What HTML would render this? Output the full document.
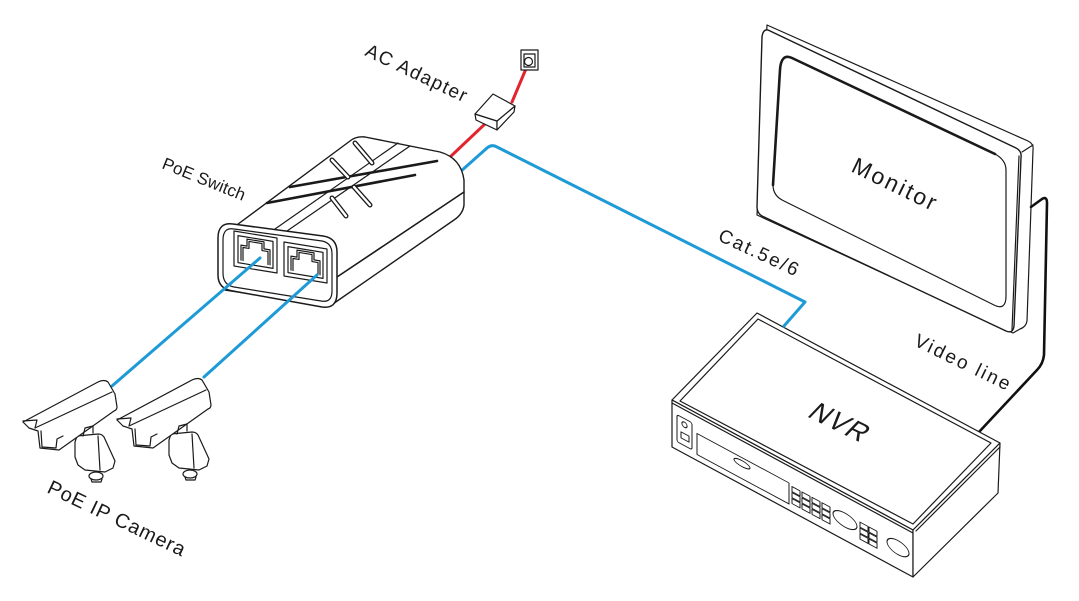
<!DOCTYPE html>
<html><head><meta charset="utf-8"><style>
html,body{margin:0;padding:0;background:#fff;}
svg{display:block;}
text{font-family:"Liberation Sans",sans-serif;fill:#1a1a1a;stroke:none;}
</style></head><body>
<svg width="1079" height="601" viewBox="0 0 1079 601" xmlns="http://www.w3.org/2000/svg">
<rect width="1079" height="601" fill="#fff"/>
<g fill="none" stroke="#1a1a1a" stroke-width="1.2" stroke-linejoin="round" stroke-linecap="round">

<!-- ===== Monitor ===== -->
<path d="M767,25 L1028,141 Q1034,144 1033,150 L1027,321 Q1026,327 1020,329 L1013,333 L757,215 Z" fill="#fff"/>
<path d="M768,30 L1016,148 Q1022,151 1021,158 L1014,326 Q1013,334 1006,331 L762,216 Q757,213 757,207 L762,37 Q763,29 768,30 Z" fill="#fff" stroke-width="1.4"/>
<path d="M1022,152 L1033,145"/>
<path d="M1019,156 L1012,330"/>
<path d="M792,58 L995,154 Q1006,160 1006,170 L1006,296 Q1006,311 994,305 L784,201 Q773,196 773,185 L780,70 Q781,53 792,58 Z" fill="#fff"/>
<path d="M773,185 L780,70 Q781,53 792,58 L995,154" stroke-width="2.6"/>
<text transform="translate(850,171) rotate(26)" font-size="23" textLength="91" lengthAdjust="spacing">Monitor</text>

<!-- video line -->
<path d="M1031,207 L1042,199 Q1047,196 1047,203 L1044,355 Q1043,364 1037,370 L979,432" stroke="#111" stroke-width="2.6"/>
<text transform="translate(913,345) rotate(26)" font-size="19" textLength="104" lengthAdjust="spacing">Video line</text>

<!-- ===== NVR ===== -->
<path d="M757,313 L1000,443 L913,530 L672,400 Z" fill="#fff"/>
<path d="M758,319 L991,443 L913,524 L680,401 Z"/>
<path d="M672,400 L913,530 L913,577 L672,447 Z" fill="#fff"/>
<path d="M672,403 L913,533"/>
<path d="M913,530 L1000,443 L998,493 L913,577 Z" fill="#fff"/>
<path d="M916,531 L1000,447"/>
<g transform="matrix(1,0.538,0,1,672,400)" stroke-width="1">
 <rect x="5" y="12" width="15" height="27" rx="2"/>
 <circle cx="12.5" cy="18" r="2.6"/>
 <rect x="9" y="27" width="8" height="6"/>
 <rect x="25" y="20" width="92" height="21"/>
 <ellipse cx="70" cy="26" rx="8" ry="3"/>
 <rect x="120" y="22" width="8" height="5"/><rect x="130" y="22" width="8" height="5"/><rect x="140" y="22" width="8" height="5"/><rect x="150" y="22" width="8" height="5"/>
 <rect x="120" y="28" width="8" height="5"/><rect x="130" y="28" width="8" height="5"/><rect x="140" y="28" width="8" height="5"/><rect x="150" y="28" width="8" height="5"/>
 <rect x="120" y="34" width="8" height="5"/><rect x="130" y="34" width="8" height="5"/><rect x="140" y="34" width="8" height="5"/><rect x="150" y="34" width="8" height="5"/>
 <ellipse cx="173" cy="27" rx="12" ry="7"/>
 <rect x="188" y="21" width="8" height="5"/><rect x="197" y="21" width="8" height="5"/>
 <rect x="188" y="27" width="8" height="5"/><rect x="197" y="27" width="8" height="5"/>
 <rect x="188" y="33" width="8" height="5"/><rect x="197" y="33" width="8" height="5"/>
 <ellipse cx="226" cy="26" rx="11" ry="7"/>
</g>
<text transform="translate(806,416) rotate(26) skewX(-18)" font-size="27" textLength="60" lengthAdjust="spacing">NVR</text>

<!-- Cat5 cable -->
<path d="M460,172 L487,148 Q492,144 497,147 L805,302 L784,326" stroke="#1e9ad6" stroke-width="3"/>
<text transform="translate(717,240) rotate(25)" font-size="19" textLength="86" lengthAdjust="spacing">Cat.5e/6</text>

<!-- ===== AC adapter & socket ===== -->
<path d="M449,158 L486,123" stroke="#e3242f" stroke-width="3"/>
<path d="M512,102 L528,64" stroke="#e3242f" stroke-width="3"/>
<path d="M475,114 L497,121 L497,130 L476,120 Z" fill="#fff"/>
<path d="M497,121 L515,106 L514,112 L497,130 Z" fill="#fff"/>
<path d="M475,114 L493,94 L515,106 L497,121 Z" fill="#fff"/>
<rect x="521" y="50" width="17" height="20" fill="#fff"/>
<rect x="524" y="54" width="11" height="13"/>
<circle cx="528.5" cy="61.5" r="4"/>
<text transform="translate(364,55) rotate(25.5)" font-size="19" textLength="110" lengthAdjust="spacing">AC Adapter</text>

<!-- ===== PoE Switch ===== -->
<path d="M222,236 L350,141 Q356,136 365,137 L440,152 Q461,158 464,180 L464,205 Q463,214 454,220 L330,306 L225,290 Z" fill="#fff" stroke-width="1.4"/>
<path d="M337,277 L464,192" stroke-width="1.6"/>
<path d="M275,229 L398,143"/>
<path d="M287,231 L410,146"/>
<path d="M290,187 L437,161" stroke-width="2.6"/>
<path d="M267,203 L415,175" stroke-width="2.6"/>
<g>
 <path d="M332,160 L348,177" stroke-width="5"/><path d="M332,160 L348,177" stroke="#fff" stroke-width="2.4"/>
 <path d="M355,143 L372,163" stroke-width="5"/><path d="M355,143 L372,163" stroke="#fff" stroke-width="2.4"/>
 <path d="M332,198 L346,216" stroke-width="5"/><path d="M332,198 L346,216" stroke="#fff" stroke-width="2.4"/>
 <path d="M354,187 L370,205" stroke-width="5"/><path d="M354,187 L370,205" stroke="#fff" stroke-width="2.4"/>
</g>
<path d="M233,224 L323,236 Q337,238 337,252 L337,293 Q337,309 322,307 L233,291 Q218,289 218,275 L218,238 Q218,222 233,224 Z" fill="#fff" stroke-width="1.5"/>
<path d="M234,229 L322,241 Q332,243 332,254 L332,291 Q332,303 321,301 L234,287 Q223,285 223,273 L223,240 Q223,227 234,229 Z"/>
<g transform="matrix(1,0.163,0,1,234,231)">
 <rect x="0" y="0" width="43" height="35"/>
 <rect x="4" y="4" width="35" height="27"/>
 <path d="M7,28 L7,13 L13,13 L13,6 L30,6 L30,13 L36,13 L36,28"/>
 <path d="M9,28 L9,15 L15,15 L15,8 L28,8 L28,15 L34,15 L34,28"/>
</g>
<g transform="matrix(1,0.163,0,1,284,242)">
 <rect x="0" y="0" width="43" height="34"/>
 <rect x="4" y="4" width="35" height="26"/>
 <path d="M7,27 L7,13 L13,13 L13,6 L30,6 L30,13 L36,13 L36,27"/>
 <path d="M9,27 L9,15 L15,15 L15,8 L28,8 L28,15 L34,15 L34,27"/>
</g>
<text transform="translate(161,168) rotate(22)" font-size="17" textLength="88" lengthAdjust="spacing">PoE Switch</text>

<!-- camera cables -->
<path d="M112,386 L260,258" stroke="#1e9ad6" stroke-width="3"/>
<path d="M204,377 L317,275" stroke="#1e9ad6" stroke-width="3"/>

<!-- ===== Cameras ===== -->
<g id="cam">
 <path d="M75,442 L77,436 L98,434 Q102,434 104,437 L115,461 L113,468 L105,472 L85,470 L78,465 L75,457 Z" fill="#fff"/>
 <path d="M98,436 L100,470"/>
 <ellipse cx="96" cy="476" rx="7" ry="4" fill="#fff"/>
 <path d="M91,479 L92,482 L101,482 L102,479"/>
 <path d="M23,422 L98,382 Q104,379 108,382 L115,394 L117,407 Q117,410 114,411 L59,450 L40,448 L38,431 L29,428 Z" fill="#fff"/>
 <path d="M23,421 L37,420 L35,428 L112,392"/>
 <path d="M41,431 L42,447 L56,448 L57,439 L63,436"/>
 <path d="M83,436 L85,428 L93,426 L93,433"/>
</g>
<use href="#cam" transform="translate(94,-2)"/>
<text transform="translate(46,492) rotate(25.5)" font-size="20" textLength="150" lengthAdjust="spacing">PoE IP Camera</text>

</g>
</svg>
</body></html>
